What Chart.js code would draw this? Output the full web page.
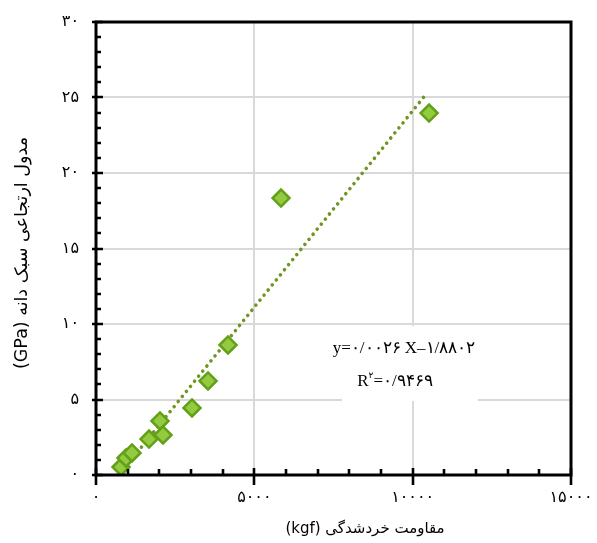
<!DOCTYPE html>
<html><head><meta charset="utf-8">
<script src="https://cdn.jsdelivr.net/npm/chart.js@4.4.0/dist/chart.umd.min.js"></script>
<style>html,body{margin:0;padding:0;background:#fff;}canvas{display:block}</style>
</head><body>
<canvas id="c" width="597" height="543"></canvas>
<script>
// ---- data ----
const strengthX = [790, 948, 1137, 1674, 2021, 2116, 3032, 3538, 4169, 5843, 10518];
const modulusY  = [0.53, 1.13, 1.46, 2.38, 3.58, 2.65, 4.44, 6.23, 8.61, 18.34, 23.97];
const trendX = [790, 10455];
const trendY = [0.17, 25.3];
const xTickValues = [0, 5000, 10000, 15000];
const xTickLabels = ['۰', '۵۰۰۰', '۱۰۰۰۰', '۱۵۰۰۰'];
const yTickValues = [0, 5, 10, 15, 20, 25, 30];
const yTickLabels = ['۰', '۵', '۱۰', '۱۵', '۲۰', '۲۵', '۳۰'];
const xTitle = 'مقاومت خردشدگی (kgf)';
const yTitle = 'مدول ارتجاعی سبک دانه (GPa)';
const eqLine = 'y=۰/۰۰۲۶ X–۱/۸۸۰۲';
const r2Base = 'R', r2Sup = '۲', r2Rest = '=۰/۹۴۶۹';

const pointsData = strengthX.map((v, i) => ({x: v, y: modulusY[i]}));
const trendData = trendX.map((v, i) => ({x: v, y: trendY[i]}));

const deco = {
  id: 'deco',
  beforeDatasetsDraw(chart) {
    const ctx = chart.ctx;
    ctx.save();
    ctx.fillStyle = '#fff';
    ctx.fillRect(342, 326, 136, 75);
    ctx.restore();
  },
  afterDraw(chart) {
    const {ctx, chartArea: a, scales: {x, y}} = chart;
    ctx.save();
    ctx.strokeStyle = '#000';
    ctx.lineWidth = 2.6;
    ctx.beginPath();
    for (let v = 0; v <= 30; v++) {
      const py = Math.round(y.getPixelForValue(v));
      const major = v % 5 === 0;
      ctx.moveTo(a.left - (major ? 4 : 0), py);
      ctx.lineTo(a.left + (major ? 7 : 5), py);
    }
    for (let v = 0; v <= 15000; v += 1000) {
      const px = Math.round(x.getPixelForValue(v));
      const major = v % 5000 === 0;
      ctx.moveTo(px, a.bottom + (major ? 10 : 0));
      ctx.lineTo(px, a.bottom - (major ? 7 : 6));
    }
    ctx.stroke();
    ctx.lineWidth = 3;
    ctx.strokeRect(a.left, a.top, a.right - a.left, a.bottom - a.top);

    // axis titles
    ctx.fillStyle = '#000';
    ctx.direction = 'rtl';
    ctx.textAlign = 'center';
    ctx.textBaseline = 'middle';
    ctx.font = '15px "DejaVu Sans", sans-serif';
    ctx.fillText(xTitle, 365, 529);
    ctx.save();
    ctx.translate(22, 253);
    ctx.rotate(-Math.PI / 2);
    ctx.font = '17.5px "DejaVu Sans", sans-serif';
    ctx.fillText(yTitle, 0, 0);
    ctx.restore();

    // equation
    ctx.direction = 'ltr';
    ctx.font = '17px "Liberation Serif", "DejaVu Serif", serif';
    ctx.textAlign = 'center';
    ctx.fillText(eqLine, 404, 349);
    ctx.textAlign = 'left';
    const fBig = '17px "Liberation Serif", "DejaVu Serif", serif';
    const fSmall = '9px "Liberation Serif", "DejaVu Sans", serif';
    ctx.font = fBig; const w1 = ctx.measureText(r2Base).width; const w3 = ctx.measureText(r2Rest).width;
    ctx.font = fSmall; const w2 = ctx.measureText(r2Sup).width;
    let sx = 395 - (w1 + w2 + w3) / 2;
    ctx.font = fBig; ctx.fillText(r2Base, sx, 382);
    ctx.font = fSmall; ctx.fillText(r2Sup, sx + w1, 376);
    ctx.font = fBig; ctx.fillText(r2Rest, sx + w1 + w2, 382);
    ctx.restore();
  }
};

new Chart(document.getElementById('c'), {
  type: 'scatter',
  data: {
    datasets: [
      {
        label: 'points',
        data: pointsData,
        pointStyle: 'rectRot',
        pointRadius: 8.5,
        backgroundColor: '#93ca40',
        borderColor: '#62a018',
        borderWidth: 2.5,
        showLine: false
      },
      {
        label: 'trend',
        data: trendData,
        showLine: true,
        pointRadius: 0,
        borderColor: '#6f9522',
        borderWidth: 3.6,
        borderDash: [0.01, 6.5],
        borderCapStyle: 'round',
        fill: false
      }
    ]
  },
  options: {
    responsive: false,
    animation: false,
    events: [],
    layout: {padding: {top: 22, right: 26, left: 0, bottom: 0}},
    plugins: {legend: {display: false}, tooltip: {enabled: false}},
    scales: {
      x: {
        type: 'linear', min: 0, max: 15000,
        afterFit(s) { s.height = 68; s.paddingLeft = 0; s.paddingRight = 0; },
        afterBuildTicks(s) { s.ticks = xTickValues.map(v => ({value: v})); },
        border: {display: false},
        grid: {color: '#d9d9d9', lineWidth: 2, drawTicks: false},
        ticks: {
          padding: 13, color: '#000', maxRotation: 0, autoSkip: false,
          font: {family: '"DejaVu Sans", sans-serif', size: 16},
          callback: (v) => xTickLabels[xTickValues.indexOf(v)]
        }
      },
      y: {
        type: 'linear', min: 0, max: 30,
        afterFit(s) { s.width = 96; s.paddingTop = 0; s.paddingBottom = 0; },
        afterBuildTicks(s) { s.ticks = yTickValues.map(v => ({value: v})); },
        border: {display: false},
        grid: {color: '#d9d9d9', lineWidth: 2, drawTicks: false},
        ticks: {
          padding: 17, color: '#000', autoSkip: false,
          font: {family: '"DejaVu Sans", sans-serif', size: 16},
          callback: (v) => yTickLabels[yTickValues.indexOf(v)]
        }
      }
    }
  },
  plugins: [deco]
});
</script>
</body></html>
